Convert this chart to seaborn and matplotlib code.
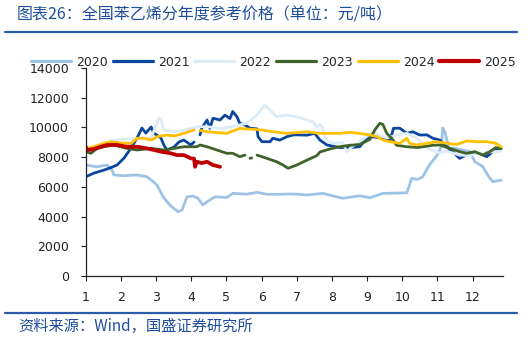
import numpy as np
import matplotlib
matplotlib.use("Agg")
import matplotlib.pyplot as plt
import seaborn as sns
from matplotlib.lines import Line2D

years = ["2020", "2021", "2022", "2023", "2024", "2025"]
colors = ["#9DC3E6", "#0A469E", "#DDEBF7", "#3F6328", "#FFC000", "#C00000"]
month_ticks = [1, 2, 3, 4, 5, 6, 7, 8, 9, 10, 11, 12]
month_labels = [str(m) for m in month_ticks]
y_ticks = [0, 2000, 4000, 6000, 8000, 10000, 12000, 14000]

# x = position within the year in months (1 = 1 Jan), y = price (yuan/ton); nan = gap
x_2020 = [1.0, 1.32, 1.61, 1.75, 1.80, 2.09, 2.46, 2.74, 2.86, 3.03, 3.2, 3.39, 3.62, 3.74, 3.88,
          4.05, 4.19, 4.33, 4.45, 4.68, 5.02, 5.18, 5.58, 5.89, 6.14, 6.52, 6.81, 7.0, 7.29, 7.74,
          8.31, 8.79, 9.08, 9.45, 10.13, 10.27, 10.44, 10.58, 10.78, 10.98, 11.07, 11.12, 11.15, 11.21, 11.35,
          11.43, 11.92, 12.06, 12.29, 12.43, 12.57, 12.81]
y_2020 = [7470, 7350, 7470, 7130, 6800, 6750, 6800, 6680, 6460, 6120, 5330, 4780, 4330, 4440, 5330,
          5380, 5240, 4780, 5000, 5330, 5290, 5560, 5510, 5630, 5500, 5500, 5520, 5510, 5450, 5560,
          5230, 5400, 5270, 5560, 5600, 6570, 6500, 6680, 7500, 8100, 8500, 8820, 9960, 9710, 8370,
          8620, 8370, 7700, 7360, 6800, 6350, 6450]

x_2021 = [1.0, 1.24, 1.52, 1.72, 1.89, 2.09, 2.29, 2.46, 2.60, 2.71, 2.86, 2.94, 3.14, 3.22, 3.31,
          3.51, 3.65, 3.79, 3.99, 4.08, 4.17, 4.25, 4.30, 4.45, 4.53, 4.62, 4.82, 4.96, 5.10, 5.18,
          5.30, 5.38, 5.53, 5.67, 5.87, 5.90, 6.01, 6.24, 6.32, 6.52, 6.72, 6.89, 7.0, 7.29, 7.51,
          7.66, 7.86, 8.22, 8.51, 8.79, 8.99, 9.08, 9.36, 9.65, 9.75, 9.93, 10.13, 10.30, 10.50, 10.70,
          10.87, 11.07, 11.15, 11.43, 11.63, 11.92, 12.2, 12.4, 12.57, 12.81]
y_2021 = [6680, 6930, 7130, 7300, 7470, 7940, 8610, 9290, 9960, 9620, 10030, 9620, 9290, 8820, 8480,
          8680, 9020, 9150, 8820, 9020, np.nan, 9500, 9960, 10500, 9940, 10620, 10500, 10830, 10600, 11070,
          10720, 10280, 10160, 9950, 9900, 9380, 9040, 9040, 9270, 9150, 9380, 9490, 9500, 9480, 9600,
          9150, 8820, 8650, 8650, 8700, 9270, 9400, 9300, 9100, 9940, 9950, 9600, 9710, 9490, 9500,
          9270, 9150, 8930, 8370, 7920, 8260, 8260, 8030, 8370, 8590]

x_2022 = [1.0, 1.3, 1.55, 1.72, 2.0, 2.46, 2.86, 3.08, 3.14, 3.22, 3.51, 3.79, 4.16, 4.45, 4.82,
          5.18, 5.58, 5.87, 6.09, 6.24, 6.43, 6.72, 7.0, 7.29, 7.46, 7.57, 7.66, 7.74, 7.86, 8.03,
          8.31, 8.42, 8.57, 8.79, 9.16, 9.3, 9.56, 9.87, 10.13, 10.41, 10.7, 11.07, 11.26, 11.63, 11.92,
          12.2, 12.57, 12.81]
y_2022 = [8300, 8500, 8800, 9100, 9200, 9250, 9290, 10630, 10500, 9830, 9710, 9800, 10050, 10050, 9940,
          10050, 10280, 10830, 11510, 11170, 10720, 10830, 10720, 10500, 10380, 10050, 10200, 9960, 9040, 8950,
          8950, 8370, 8700, 9040, 9700, 9500, 9300, 9500, 9600, 9300, 8600, 8280, 8400, 8140, 8100,
          8250, 8370, 8400]

x_2023 = [1.0, 1.15, 1.32, 1.52, 1.80, 2.17, 2.46, 2.86, 3.22, 3.51, 3.79, 4.16, 4.25, 4.45, 4.73,
          5.01, 5.18, 5.38, 5.53, 5.6, 5.67, 5.72, 5.8, 5.87, 6.15, 6.43, 6.61, 6.75, 7.0, 7.29,
          7.57, 7.66, 7.94, 8.22, 8.51, 8.79, 9.08, 9.22, 9.36, 9.45, 9.56, 9.70, 9.84, 10.13, 10.44,
          10.87, 11.07, 11.35, 11.63, 11.83, 12.06, 12.29, 12.49, 12.66, 12.81]
y_2023 = [8370, 8260, 8590, 8700, 8820, 8590, 8480, 8590, 8480, 8590, 8700, 8700, 8820, 8700, 8480,
          8260, 8260, 8030, 8140, np.nan, 7920, 7950, np.nan, 8140, 7920, 7690, 7470, 7250, 7470, 7800,
          8100, 8350, 8550, 8700, 8800, 8850, 9200, 9830, 10280, 10200, 9600, 9270, 8800, 8700, 8650,
          8800, 8820, 8590, 8370, 8260, 8370, 8140, 8370, 8640, 8590]

x_2024 = [1.0, 1.3, 1.52, 1.72, 2.0, 2.29, 2.46, 2.66, 2.86, 3.03, 3.31, 3.51, 3.79, 4.08, 4.15,
          4.25, 4.5, 5.01, 5.38, 5.58, 6.01, 6.32, 6.72, 7.0, 7.29, 7.66, 7.94, 8.22, 8.51, 8.79,
          9.08, 9.28, 9.45, 9.65, 9.93, 10.13, 10.21, 10.41, 10.70, 10.98, 11.26, 11.55, 11.83, 12.12, 12.4,
          12.66, 12.81]
y_2024 = [8550, 8750, 8930, 9040, 8950, 8930, 9270, 9270, 9150, 9380, 9490, 9420, 9600, 9830, np.nan,
          9800, 9700, 9600, 9940, 9900, 9830, 9710, 9600, 9650, 9710, 9600, 9600, 9600, 9670, 9600,
          9490, 9380, 9150, 9040, 8930, 9270, 8930, 8820, 8930, 9040, 8930, 8860, 9090, 9040, 9040,
          8930, 8700]

x_2025 = [1.0, 1.04, 1.24, 1.43, 1.61, 1.89, 2.17, 2.46, 2.74, 2.94, 3.14, 3.42, 3.59, 3.79, 3.99,
          4.08, 4.11, 4.16, 4.30, 4.45, 4.62, 4.82]
y_2025 = [8700, 8480, 8550, 8700, 8820, 8820, 8700, 8700, 8590, 8480, 8370, 8260, 8140, 8140, 7920,
          7900, 7350, 7690, 7600, 7690, 7470, 7350]

series_x = [x_2020, x_2021, x_2022, x_2023, x_2024, x_2025]
series_y = [y_2020, y_2021, y_2022, y_2023, y_2024, y_2025]
widths = [2.0, 2.0, 2.0, 2.0, 2.0, 2.7]

sns.set_style("ticks")
plt.rcParams["font.family"] = ["DejaVu Sans"]
cjk = ["Noto Sans CJK SC", "DejaVu Sans"]

fig = plt.figure(figsize=(5.31, 3.38), dpi=100)
ax = fig.add_axes([0.1614, 0.1834, 0.7856, 0.6154])


def segments(xs, ys):
    out, cx, cy = [], [], []
    for a, b in zip(xs, ys):
        if np.isnan(b):
            if cx:
                out.append((cx, cy))
            cx, cy = [], []
        else:
            cx.append(a)
            cy.append(b)
    if cx:
        out.append((cx, cy))
    return out


for yr, c, lw, xs, ys in zip(years, colors, widths, series_x, series_y):
    for sx, sy in segments(xs, ys):
        sns.lineplot(x=sx, y=sy, ax=ax, color=c, linewidth=lw, sort=False,
                     estimator=None, legend=False)

ax.set_xlim(1, 12.86)
ax.set_ylim(0, 14000)
ax.set_xticks(month_ticks)
ax.set_xticklabels(month_labels)
ax.set_yticks(y_ticks)
ax.set_yticklabels([str(v) for v in y_ticks])
ax.tick_params(axis="both", labelsize=9, colors="#222222", length=3.5, width=0.8)
ax.tick_params(axis="y", pad=8.5)
ax.tick_params(axis="x", pad=7.5)
for s in ["top", "right"]:
    ax.spines[s].set_visible(False)
for s in ["left", "bottom"]:
    ax.spines[s].set_color("#222222")
    ax.spines[s].set_linewidth(0.9)
ax.set_xlabel("")
ax.set_ylabel("")

handles = [Line2D([0], [0], color=c, lw=lw + 0.3) for c, lw in zip(colors, widths)]
fig.legend(handles, years, loc="center left", bbox_to_anchor=(31 / 531, 1 - 62 / 338),
           ncol=6, frameon=False, fontsize=9, handlelength=3.2, handletextpad=0.4,
           columnspacing=0.4, borderpad=0, borderaxespad=0)

blue = "#2A5CAA"
fig.text(17 / 531, 1 - 15 / 338, "图表26：全国苯乙烯分年度参考价格（单位：元/吨）",
         family=cjk, fontsize=11.5, color="#1F4E9A", va="center", ha="left")
fig.add_artist(Line2D([5 / 531, 517 / 531], [1 - 32 / 338] * 2, color=blue, lw=1.6))
fig.add_artist(Line2D([5 / 531, 517 / 531], [1 - 313 / 338] * 2, color=blue, lw=1.6))
fig.text(18 / 531, 1 - 326 / 338, "资料来源：Wind，国盛证券研究所",
         family=cjk, fontsize=11, color="#1F4E9A", va="center", ha="left")

fig.savefig("out.png", dpi=100)
